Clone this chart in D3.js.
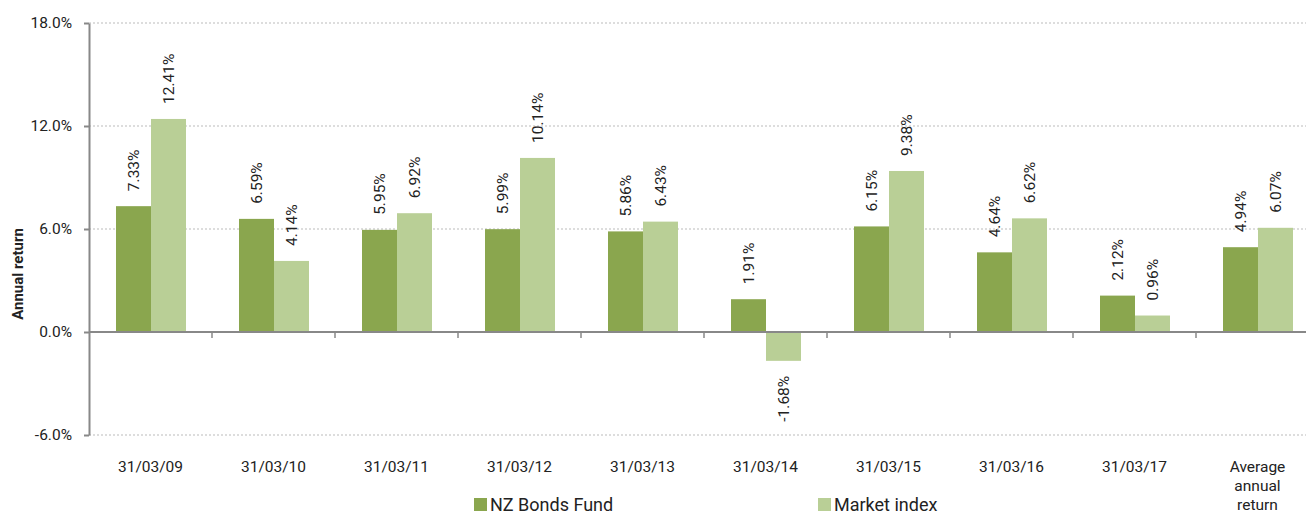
<!DOCTYPE html>
<html>
<head>
<meta charset="utf-8">
<script src="https://cdn.jsdelivr.net/npm/d3@7"></script>
<style>
  body { margin: 0; background: #fff; }
  text { font-family: Roboto, "Noto Sans", sans-serif; fill: #222; }
</style>
</head>
<body>
<div id="chart"></div>
<script>
// data
const categories = ["31/03/09", "31/03/10", "31/03/11", "31/03/12", "31/03/13",
                    "31/03/14", "31/03/15", "31/03/16", "31/03/17", "Average annual return"];
const fundValues = [7.33, 6.59, 5.95, 5.99, 5.86, 1.91, 6.15, 4.64, 2.12, 4.94];
const indexValues = [12.41, 4.14, 6.92, 10.14, 6.43, -1.68, 9.38, 6.62, 0.96, 6.07];
const seriesNames = ["NZ Bonds Fund", "Market index"];
const yTicks = [-6, 0, 6, 12, 18];

const colors = ["#8aa64e", "#b9cf96"];

const W = 1306, H = 516;
const margin = {top: 23, left: 89};
const plotW = 1230, plotH = 412;

const svg = d3.select("#chart").append("svg")
    .attr("width", W).attr("height", H);

const g = svg.append("g")
    .attr("transform", `translate(${margin.left},${margin.top})`);

const x = d3.scaleBand().domain(categories).range([0, plotW]);
const x1 = d3.scaleBand().domain([0, 1]).range([27, 97]);
const y = d3.scaleLinear().domain([-6, 18]).range([plotH, 0]);

// gridlines
g.selectAll(".grid").data(yTicks.filter(d => d !== 0))
  .join("line")
    .attr("x1", 0).attr("x2", W - margin.left)
    .attr("y1", d => y(d)).attr("y2", d => y(d))
    .attr("stroke", "#bbb").attr("stroke-dasharray", "2,2").attr("stroke-width", 1);

// bars
const groups = g.selectAll(".grp").data(categories)
  .join("g")
    .attr("transform", d => `translate(${x(d)},0)`);

const rows = categories.map((c, i) => [fundValues[i], indexValues[i]]);

groups.selectAll("rect").data((d, i) => rows[i])
  .join("rect")
    .attr("x", (d, j) => x1(j))
    .attr("width", x1.bandwidth())
    .attr("y", d => y(Math.max(0, d)))
    .attr("height", d => Math.abs(y(d) - y(0)))
    .attr("fill", (d, j) => colors[j]);

// value labels, rotated
groups.selectAll(".lbl").data((d, i) => rows[i])
  .join("text")
    .attr("transform", (d, j) => {
      const cx = x1(j) + x1.bandwidth() / 2;
      const cy = d >= 0 ? y(d) - 15 : y(d) + 15;
      return `translate(${cx + 5.5},${cy}) rotate(-90)`;
    })
    .attr("text-anchor", d => d >= 0 ? "start" : "end")
    .style("font-size", "15.5px")
    .text(d => d.toFixed(2) + "%");

// zero line with category separators
g.append("line")
    .attr("x1", 0).attr("x2", W - margin.left)
    .attr("y1", y(0)).attr("y2", y(0))
    .attr("stroke", "#888").attr("stroke-width", 2);

g.selectAll(".sep").data(categories.slice(1))
  .join("line")
    .attr("x1", d => x(d)).attr("x2", d => x(d))
    .attr("y1", y(0)).attr("y2", y(0) + 6)
    .attr("stroke", "#888").attr("stroke-width", 1.5);

// y axis
const yAxis = g.append("g")
    .call(d3.axisLeft(y).tickValues(yTicks).tickSize(5).tickSizeOuter(0)
      .tickFormat(d => d.toFixed(1) + "%"));
yAxis.select(".domain").attr("stroke", "#888").attr("stroke-width", 2);
yAxis.selectAll(".tick line").attr("stroke", "#888").attr("stroke-width", 2);
yAxis.selectAll(".tick text")
    .attr("x", -17)
    .style("font-size", "15.5px").style("font-family", "Roboto, sans-serif").attr("fill", "#222");

// category labels
const catLabels = g.selectAll(".cat").data(categories)
  .join("text")
    .attr("x", d => x(d) + x.bandwidth() / 2)
    .attr("y", plotH + 37)
    .attr("text-anchor", "middle")
    .style("font-size", "15.5px");
catLabels.each(function(d) {
  const t = d3.select(this);
  const parts = d === "Average annual return" ? ["Average", "annual", "return"] : [d];
  parts.forEach((p, i) => {
    t.append("tspan").attr("x", x(d) + x.bandwidth() / 2).attr("dy", i === 0 ? 0 : 19).text(p);
  });
});

// y axis title
svg.append("text")
    .attr("transform", "translate(23,274) rotate(-90)")
    .attr("text-anchor", "middle")
    .style("font-size", "15px").style("font-weight", "bold")
    .text("Annual return");

// legend
const legendX = [474, 818];
const legend = svg.selectAll(".legend").data(seriesNames)
  .join("g")
    .attr("transform", (d, i) => `translate(${legendX[i]},498)`);
legend.append("rect").attr("width", 13).attr("height", 13)
    .attr("fill", (d, i) => colors[i]);
legend.append("text").attr("x", 16).attr("y", 13)
    .style("font-size", "18px")
    .text(d => d);
</script>
</body>
</html>
